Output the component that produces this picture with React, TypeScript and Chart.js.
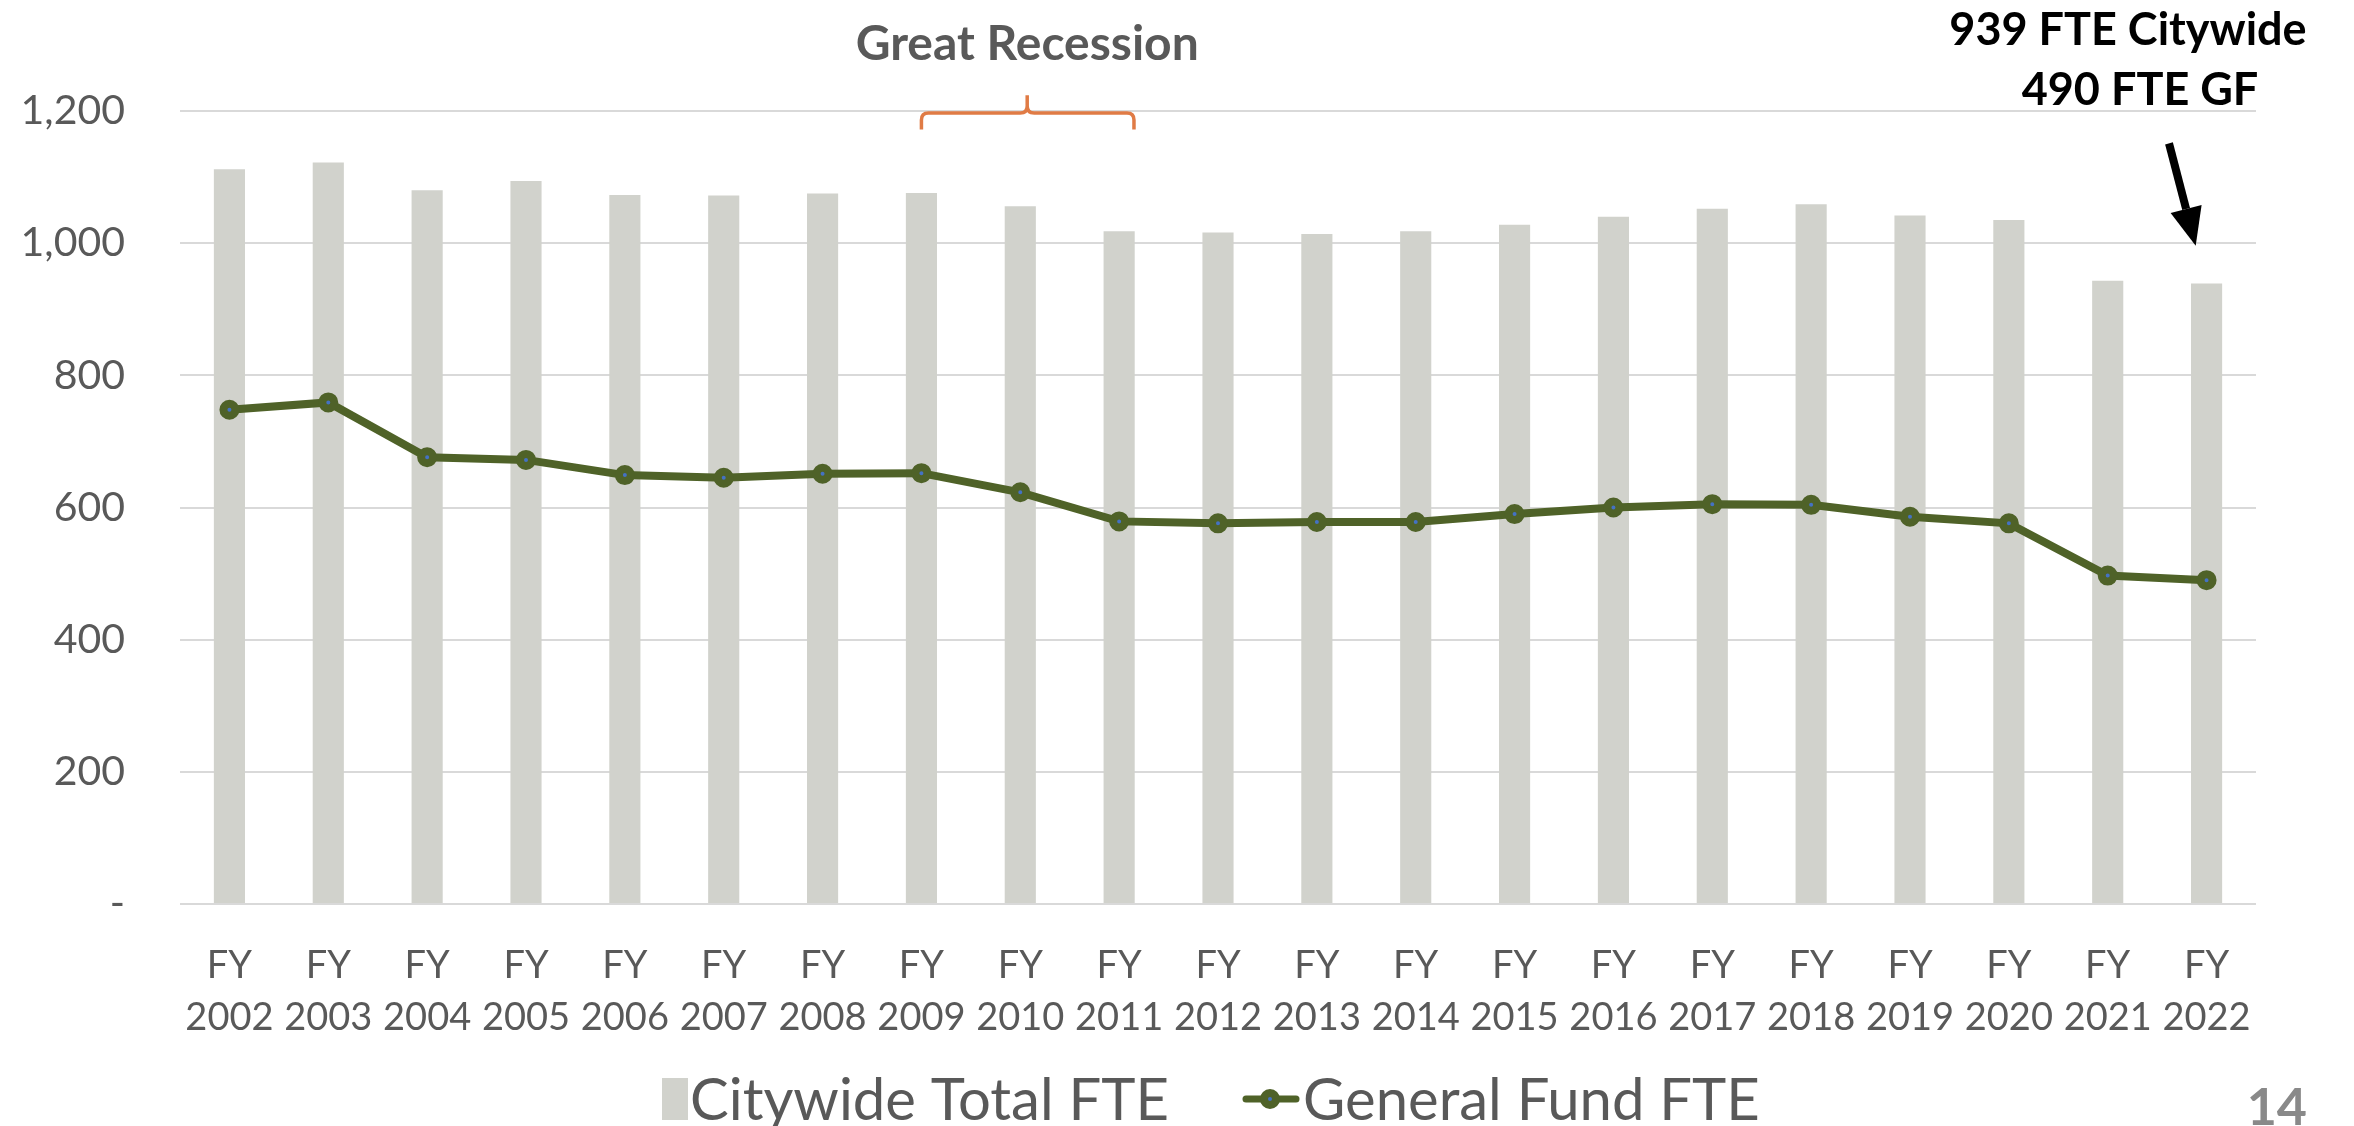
import React, { useEffect, useRef } from 'react';
import { Chart, registerables } from 'chart.js';

Chart.register(...registerables);

// ---------- data ----------
const fiscalYears = ['2002', '2003', '2004', '2005', '2006', '2007', '2008', '2009', '2010', '2011', '2012', '2013', '2014', '2015', '2016', '2017', '2018', '2019', '2020', '2021', '2022'];
const citywideTotalFTE = [1112, 1122, 1080, 1094, 1073, 1072, 1075, 1076, 1056, 1018, 1016, 1014, 1018, 1028, 1040, 1052, 1059, 1042, 1035, 943, 939];
const generalFundFTE = [748, 759, 676, 672, 649, 645, 651, 652, 623, 579, 576, 578, 578, 590, 600, 605, 604, 586, 576, 497, 490];
const yTickValues = [0, 200, 400, 600, 800, 1000, 1200];
const seriesLabels = ['Citywide Total FTE', 'General Fund FTE'];
const recessionLabel = 'Great Recession';
const calloutLines = ['939 FTE Citywide', '490 FTE GF'];
const pageNumber = '14';

// ---------- styles ----------
const FONT = 'Lato, "Open Sans", sans-serif';
const GRAY_TEXT = '#595959';
const BAR_COLOR = '#D1D2CC';
const LINE_COLOR = '#4F6228';
const POINT_FILL = '#4472C4';
const BRACKET_COLOR = '#E07B45';
const GRID_COLOR = '#D9D9D9';

const W = 2354;
const H = 1126;

const legendPlugin = {
  id: 'customLegend',
  afterDraw(chart: any) {
    const ctx = chart.ctx;
    const cy = 1099;
    ctx.save();
    ctx.font = `58px ${FONT}`;
    ctx.textBaseline = 'middle';
    ctx.textAlign = 'left';
    // bar item
    ctx.fillStyle = BAR_COLOR;
    ctx.fillRect(662, cy - 21, 26, 42);
    ctx.fillStyle = GRAY_TEXT;
    ctx.fillText(chart.data.datasets[0].label, 690, cy + 2);
    // line item
    ctx.strokeStyle = LINE_COLOR;
    ctx.lineWidth = 7;
    ctx.lineCap = 'round';
    ctx.beginPath();
    ctx.moveTo(1246, cy);
    ctx.lineTo(1296, cy);
    ctx.stroke();
    ctx.beginPath();
    ctx.arc(1270, cy, 6, 0, Math.PI * 2);
    ctx.fillStyle = POINT_FILL;
    ctx.fill();
    ctx.lineWidth = 8;
    ctx.stroke();
    ctx.fillStyle = GRAY_TEXT;
    ctx.fillText(chart.data.datasets[1].label, 1303, cy + 2);
    ctx.restore();
  },
};

const annotationPlugin = {
  id: 'annotations',
  afterDraw(chart: any) {
    const { ctx } = chart;
    const x = chart.scales.x;
    const y = chart.scales.y;
    ctx.save();

    // Great Recession label + bracket
    const gx = x.getPixelForValue(8.07);
    ctx.font = `bold 48px ${FONT}`;
    ctx.fillStyle = GRAY_TEXT;
    ctx.textAlign = 'center';
    ctx.textBaseline = 'alphabetic';
    ctx.fillText(recessionLabel, gx, 60);

    const bx1 = x.getPixelForValue(7);
    const bx2 = x.getPixelForValue(9.15);
    const yH = y.getPixelForValue(1200) + 2;
    const yTop = y.getPixelForValue(1224);
    const yEnd = y.getPixelForValue(1172);
    const r = 7;
    ctx.strokeStyle = BRACKET_COLOR;
    ctx.lineWidth = 3.5;
    ctx.lineCap = 'butt';
    ctx.beginPath();
    ctx.moveTo(bx1, yEnd);
    ctx.lineTo(bx1, yH + r);
    ctx.quadraticCurveTo(bx1, yH, bx1 + r, yH);
    ctx.lineTo(gx - r, yH);
    ctx.quadraticCurveTo(gx, yH, gx, yH - r);
    ctx.lineTo(gx, yTop);
    ctx.moveTo(gx, yH - r);
    ctx.quadraticCurveTo(gx, yH, gx + r, yH);
    ctx.lineTo(bx2 - r, yH);
    ctx.quadraticCurveTo(bx2, yH, bx2, yH + r);
    ctx.lineTo(bx2, yEnd);
    ctx.stroke();

    // Callout text
    ctx.font = `bold 45px ${FONT}`;
    ctx.fillStyle = '#000000';
    ctx.fillText(calloutLines[0], 2128, 45);
    ctx.fillText(calloutLines[1], 2140, 105);

    // Arrow
    const tx = x.getPixelForValue(19.62);
    const ty = y.getPixelForValue(1151);
    const hx = x.getPixelForValue(19.89);
    const hy = y.getPixelForValue(996);
    const ang = Math.atan2(hy - ty, hx - tx);
    const headLen = 38;
    const headHalf = 16;
    const bxp = hx - headLen * Math.cos(ang);
    const byp = hy - headLen * Math.sin(ang);
    ctx.strokeStyle = '#000000';
    ctx.lineWidth = 8;
    ctx.beginPath();
    ctx.moveTo(tx, ty);
    ctx.lineTo(bxp, byp);
    ctx.stroke();
    ctx.beginPath();
    ctx.moveTo(hx, hy);
    ctx.lineTo(bxp + headHalf * Math.sin(ang), byp - headHalf * Math.cos(ang));
    ctx.lineTo(bxp - headHalf * Math.sin(ang), byp + headHalf * Math.cos(ang));
    ctx.closePath();
    ctx.fillStyle = '#000000';
    ctx.fill();

    // page number
    ctx.font = `bold 52px ${FONT}`;
    ctx.fillStyle = '#898989';
    ctx.textAlign = 'right';
    ctx.fillText(pageNumber, 2307, 1125);

    ctx.restore();
  },
};

export default function App() {
  const canvasRef = useRef<HTMLCanvasElement | null>(null);

  useEffect(() => {
    const canvas = canvasRef.current;
    if (!canvas) return;
    const chart = new Chart(canvas, {
      type: 'bar',
      data: {
        labels: fiscalYears.map((fy) => ['FY', fy]),
        datasets: [
          {
            type: 'bar',
            label: seriesLabels[0],
            data: citywideTotalFTE,
            backgroundColor: BAR_COLOR,
            borderWidth: 0,
            categoryPercentage: 1,
            barPercentage: 0.315,
            order: 2,
          } as any,
          {
            type: 'line',
            label: seriesLabels[1],
            data: generalFundFTE,
            borderColor: LINE_COLOR,
            borderWidth: 8,
            pointRadius: 6,
            pointBorderWidth: 8,
            pointBackgroundColor: POINT_FILL,
            pointBorderColor: LINE_COLOR,
            tension: 0,
            order: 1,
          } as any,
        ],
      },
      options: {
        responsive: false,
        animation: false,
        devicePixelRatio: 1,
        layout: { padding: { left: 0, right: 98, top: 111, bottom: 92 } },
        plugins: {
          legend: { display: false },
          tooltip: { enabled: false },
        },
        scales: {
          x: {
            grid: { display: false },
            border: { display: false },
            ticks: {
              color: GRAY_TEXT,
              font: { family: FONT, size: 38, lineHeight: 1.37 },
              padding: 28,
              maxRotation: 0,
              autoSkip: false,
            },
            afterFit: (s: any) => {
              s.height = 130;
            },
          },
          y: {
            min: yTickValues[0],
            max: yTickValues[yTickValues.length - 1],
            afterBuildTicks: (s: any) => {
              s.ticks = yTickValues.map((v) => ({ value: v }));
            },
            ticks: {
              color: GRAY_TEXT,
              font: { family: FONT, size: 41 },
              padding: 55,
              callback: (v: any) => (Number(v) === 0 ? '-' : Number(v).toLocaleString('en-US')),
            },
            grid: { color: GRID_COLOR, lineWidth: 2, drawTicks: false },
            border: { display: false },
            afterFit: (s: any) => {
              s.width = 180;
            },
          },
        },
      },
      plugins: [legendPlugin, annotationPlugin],
    });
    return () => chart.destroy();
  }, []);

  return (
    <div style={{ position: 'absolute', left: 0, top: 0, width: W, height: H, background: '#ffffff' }}>
      <canvas ref={canvasRef} width={W} height={H} style={{ display: 'block' }} />
    </div>
  );
}
